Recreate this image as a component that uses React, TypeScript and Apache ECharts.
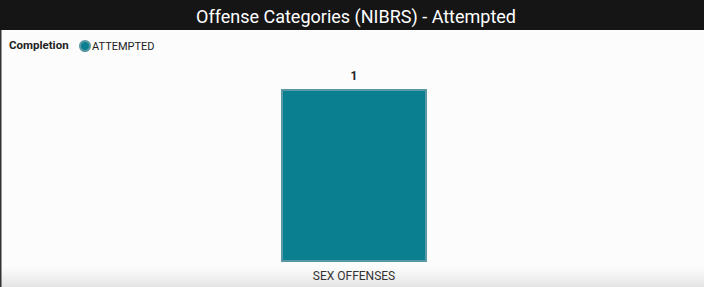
import React, { useEffect, useRef } from "react";
import * as echarts from "echarts";

const categories = ["SEX OFFENSES"];
const attemptedValues = [1];
const legendTitle = "Completion";
const seriesName = "ATTEMPTED";
const chartTitle = "Offense Categories (NIBRS) - Attempted";

const font = "Roboto, sans-serif";

export default function App() {
  const ref = useRef<HTMLDivElement>(null);
  useEffect(() => {
    document.body.style.margin = "0";
    const chart = echarts.init(ref.current!, undefined, { renderer: "svg" });
    chart.setOption({
      animation: false,
      backgroundColor: "#fcfcfc",
      textStyle: { fontFamily: font },
      title: {
        text: chartTitle,
        left: 191,
        top: 2,
        textStyle: { color: "#ffffff", fontSize: 18, fontWeight: "normal", fontFamily: font },
      },
      graphic: [
        { type: "rect", shape: { x: 0, y: 0, width: 704, height: 30 }, style: { fill: "#151515" }, z: -1 },
        {
          type: "rect",
          shape: { x: 0, y: 266, width: 704, height: 21 },
          style: {
            fill: new echarts.graphic.LinearGradient(0, 0, 0, 1, [
              { offset: 0, color: "rgba(235,235,235,0)" },
              { offset: 1, color: "rgba(228,228,228,1)" },
            ]),
          },
          z: -1,
        },
        { type: "rect", shape: { x: 0, y: 30, width: 1.5, height: 257 }, style: { fill: "#333" }, z: 10 },
        {
          type: "text",
          left: 9,
          top: 39,
          style: { text: legendTitle, fontSize: 11.5, fontWeight: "bold", fill: "#222", fontFamily: font },
        },
      ],
      legend: {
        left: 74,
        top: 35,
        icon: "circle",
        itemWidth: 10,
        itemHeight: 10,
        itemGap: 4,
        textStyle: { fontSize: 11, color: "#222", padding: [0, 0, 0, -3], fontFamily: font },
        data: [seriesName],
      },
      grid: { left: 8, right: 4, top: 89, bottom: 25, containLabel: false },
      xAxis: {
        type: "category",
        data: categories,
        axisLine: { show: false },
        axisTick: { show: false },
        axisLabel: { color: "#333", fontSize: 12, margin: 8, fontFamily: font },
      },
      yAxis: { type: "value", min: 0, max: 1, show: false },
      series: [
        {
          name: seriesName,
          type: "bar",
          data: attemptedValues,
          barWidth: 146,
          itemStyle: { color: "#0a7f8f", borderColor: "#5a98a5", borderWidth: 2 },
          label: { show: true, position: "top", distance: 7, color: "#222", fontSize: 12, fontWeight: "bold", fontFamily: font },
        },
      ],
    });
    return () => chart.dispose();
  }, []);
  return <div ref={ref} style={{ width: 704, height: 287, position: "absolute", top: 0, left: 0 }} />;
}
